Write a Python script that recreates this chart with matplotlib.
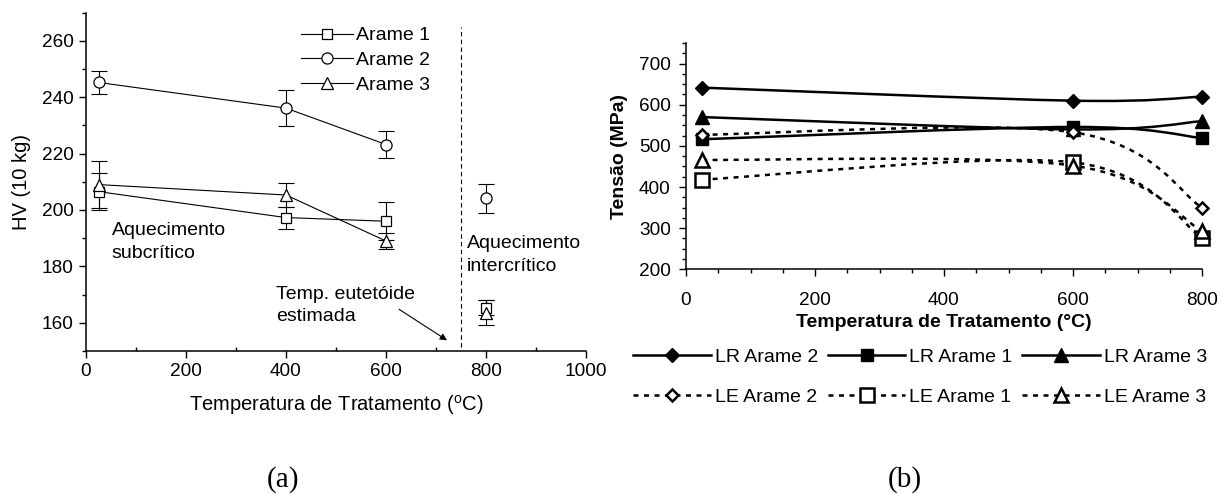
import numpy as np
import matplotlib
matplotlib.use('Agg')
import matplotlib.pyplot as plt
from matplotlib.path import Path
from matplotlib.patches import PathPatch
from matplotlib.lines import Line2D
from matplotlib.ticker import MultipleLocator

plt.rcParams['font.family'] = ['Liberation Sans', 'DejaVu Sans']
plt.rcParams['mathtext.fontset'] = 'custom'
plt.rcParams['mathtext.rm'] = 'Liberation Sans'

# ---------------- (a) hardness data ----------------
temp_a = [25, 400, 600, 800]
hv_arame1 = [206.5, 197.3, 196.0, 165.3]
err_arame1 = [6.5, 3.9, 6.8, 2.7]
hv_arame2 = [245.2, 236.1, 223.2, 204.1]
err_arame2 = [4.2, 6.5, 4.8, 5.2]
hv_arame3 = [209.0, 205.3, 189.0, 163.6]
err_arame3 = [8.4, 4.4, 2.9, 4.5]
labels_a = ['Arame 1', 'Arame 2', 'Arame 3']
n_connected = 3          # the 800 °C points are not joined
eutectoid_temp = 750

# ---------------- (b) strength data ----------------
temp_b = [25, 600, 800]
lr_arame2 = [641.5, 609.8, 619.5]
lr_arame1 = [516.0, 546.0, 519.0]
lr_arame3 = [570.0, 540.0, 560.0]
le_arame2 = [527.0, 533.0, 350.0]
le_arame1 = [418.0, 460.0, 277.0]
le_arame3 = [466.0, 452.0, 293.0]
labels_b = ['LR Arame 2', 'LR Arame 1', 'LR Arame 3',
            'LE Arame 2', 'LE Arame 1', 'LE Arame 3']

W, H = 1226, 495
fig = plt.figure(figsize=(W / 100, H / 100), dpi=100)

def fx(px):
    return px / W

def fy(py):
    return 1 - py / H

FS = 14
TFS = 13.7

# ================= panel (a) =================
axa = fig.add_axes([fx(86), fy(351), fx(586) - fx(86), fy(12.5) - fy(351)])
series_a = [(hv_arame1, err_arame1, 's', 7.5),
            (hv_arame2, err_arame2, 'o', 8.0),
            (hv_arame3, err_arame3, '^', 8.5)]
handles_a = []
for (vals, errs, mk, ms), lab in zip(series_a, labels_a):
    axa.errorbar(temp_a, vals, yerr=errs, fmt='none', ecolor='black',
                 elinewidth=0.8, capsize=5.5, capthick=0.8, zorder=2)
    axa.plot(temp_a[:n_connected], vals[:n_connected], '-', color='black',
             lw=0.8, zorder=3)
    axa.plot(temp_a, vals, linestyle='none', marker=mk, ms=ms,
             mfc='white', mec='black', mew=0.9, zorder=4)
    handles_a.append(Line2D([], [], color='black', lw=0.8, marker=mk, ms=ms,
                            mfc='white', mec='black', mew=0.9))

axa.axvline(eutectoid_temp, ymin=(151.5 - 150) / 120, ymax=(265 - 150) / 120,
            color='black', lw=0.8, ls=(0, (4, 3)))

axa.set_xlim(0, 1000)
axa.set_ylim(150, 270)
axa.xaxis.set_major_locator(MultipleLocator(200))
axa.xaxis.set_minor_locator(MultipleLocator(100))
axa.yaxis.set_major_locator(MultipleLocator(20))
axa.yaxis.set_minor_locator(MultipleLocator(10))
axa.set_yticks([160, 180, 200, 220, 240, 260])
for s in ['top', 'right']:
    axa.spines[s].set_visible(False)
for s in ['left', 'bottom']:
    axa.spines[s].set_linewidth(1.1)
axa.tick_params(which='major', direction='out', length=5, width=1.0,
                labelsize=TFS, pad=4)
axa.tick_params(axis='y', which='minor', direction='out', length=3, width=1.0)
axa.tick_params(axis='x', which='minor', direction='in', length=3, width=1.0)
axa.set_ylabel('HV (10 kg)', fontsize=14.5, labelpad=8)

axa.legend(handles_a, labels_a, loc='upper left', bbox_to_anchor=(0.43, 0.958),
           frameon=False, fontsize=FS, handlelength=2.65, handletextpad=0.2,
           labelspacing=0.375, borderpad=0, borderaxespad=0)

axa.text(51, 188.7, 'Aquecimento\nsubcrítico', ha='left', va='center',
         fontsize=FS, linespacing=1.42)
axa.text(762, 184.1, 'Aquecimento\nintercrítico', ha='left', va='center',
         fontsize=FS, linespacing=1.42)
axa.annotate('', xy=(722, 153.8), xytext=(626, 164.8),
             arrowprops=dict(arrowstyle='-|>', color='black', lw=0.8,
                             mutation_scale=10, shrinkA=0, shrinkB=0))
axa.text(381, 166.2, 'Temp. eutetóide\nestimada', ha='left', va='center',
         fontsize=FS, linespacing=1.42)

fig.text(fx(336), fy(405), 'Temperatura de Tratamento ($^{\\rm o}$C)',
         ha='center', va='center', fontsize=14.5)

# ================= panel (b) =================
axb = fig.add_axes([fx(686), fy(269.3), fx(1202) - fx(686), fy(43) - fy(269.3)])


def smooth_path(xs, ys):
    """Excel-like smoothed line through the data points (cubic Bezier)."""
    pts = list(zip(xs, ys))
    n = len(pts)
    verts = [pts[0]]
    codes = [Path.MOVETO]
    for i in range(n - 1):
        p0 = pts[i - 1] if i > 0 else pts[i]
        p1 = pts[i]
        p2 = pts[i + 1]
        p3 = pts[i + 2] if i + 2 < n else pts[i + 1]
        c1 = (p1[0] + (p2[0] - p0[0]) / 6, p1[1] + (p2[1] - p0[1]) / 6)
        c2 = (p2[0] - (p3[0] - p1[0]) / 6, p2[1] - (p3[1] - p1[1]) / 6)
        verts += [c1, c2, p2]
        codes += [Path.CURVE4] * 3
    return Path(verts, codes)


LW_B = 1.8
LE_DASH = (0, (2.0, 2.2))
series_b = [
    (lr_arame2, 'D', 7.5, 'black', '-'),
    (lr_arame1, 's', 9.0, 'black', '-'),
    (lr_arame3, '^', 10.0, 'black', '-'),
    (le_arame2, 'D', 6.0, 'white', LE_DASH),
    (le_arame1, 's', 10.0, 'white', LE_DASH),
    (le_arame3, '^', 10.0, 'white', LE_DASH),
]
handles_b = []
for vals, mk, ms, fc, ls in series_b:
    patch = PathPatch(smooth_path(temp_b, vals), facecolor='none',
                      edgecolor='black', lw=LW_B, linestyle=ls, zorder=2,
                      clip_on=False)
    axb.add_patch(patch)
    mew = 1.0 if fc == 'black' else 1.8
    axb.plot(temp_b, vals, linestyle='none', marker=mk, ms=ms, mfc=fc,
             mec='black', mew=mew, zorder=4, clip_on=False)
    handles_b.append(Line2D([], [], color='black', lw=LW_B, linestyle=ls,
                            marker=mk, ms=ms, mfc=fc, mec='black', mew=mew))

axb.set_xlim(0, 800)
axb.set_ylim(200, 750)
axb.xaxis.set_major_locator(MultipleLocator(200))
axb.xaxis.set_minor_locator(MultipleLocator(50))
axb.set_yticks([200, 300, 400, 500, 600, 700])
axb.yaxis.set_minor_locator(MultipleLocator(25))
for s in ['top', 'right']:
    axb.spines[s].set_visible(False)
for s in ['left', 'bottom']:
    axb.spines[s].set_linewidth(1.1)
axb.tick_params(which='major', direction='out', length=5, width=1.0,
                labelsize=TFS)
axb.tick_params(axis='y', which='major', pad=6)
axb.tick_params(axis='x', which='major', pad=11)
axb.tick_params(which='minor', direction='out', length=3, width=1.0)
axb.set_ylabel('Tensão (MPa)', fontsize=14, fontweight='bold', labelpad=8)
axb.set_xlabel('Temperatura de Tratamento (°C)', fontsize=14,
               fontweight='bold', labelpad=4)

order = [0, 3, 1, 4, 2, 5]
fig.legend([handles_b[i] for i in order], [labels_b[i] for i in order],
           loc='upper left', bbox_to_anchor=(fx(633), fy(348)),
           bbox_transform=fig.transFigure, ncol=3, frameon=False,
           fontsize=FS, handlelength=4.0, handletextpad=0.2,
           columnspacing=0.5, labelspacing=1.18, borderpad=0,
           borderaxespad=0)

# ================= panel labels =================
fig.text(fx(283), fy(480), '(a)', ha='center', va='center', fontsize=21,
         family=['Liberation Serif', 'DejaVu Serif'])
fig.text(fx(905), fy(480), '(b)', ha='center', va='center', fontsize=21,
         family=['Liberation Serif', 'DejaVu Serif'])

fig.savefig('out.png', dpi=100)
